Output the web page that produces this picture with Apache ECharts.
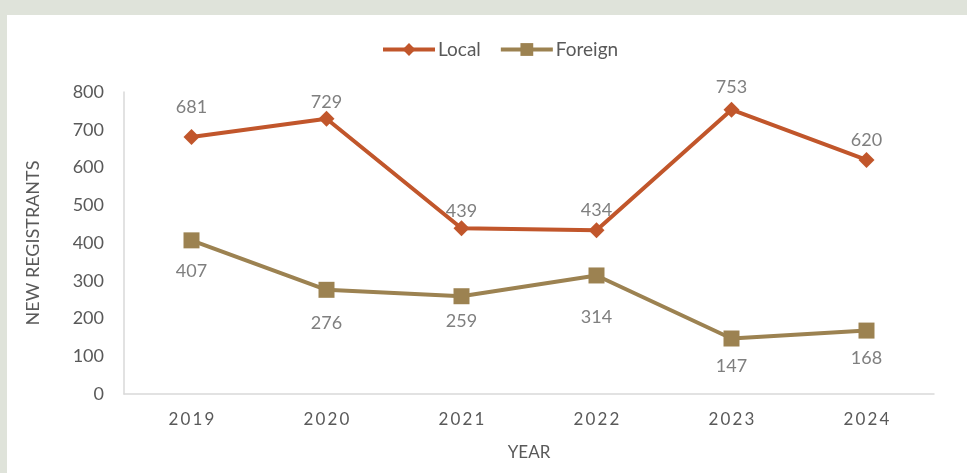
<!DOCTYPE html>
<html><head><meta charset="utf-8">
<script src="https://cdn.jsdelivr.net/npm/echarts@6/dist/echarts.min.js"></script>
<style>
html,body{margin:0;padding:0;background:#dfe3da;}
#wrap{position:absolute;left:7px;top:15px;right:0;bottom:0;background:#fff;}
#c{position:absolute;left:0;top:0;width:967px;height:473px;}
</style></head>
<body><div id="wrap"></div><div id="c"></div>
<script>
const years = ['2019','2020','2021','2022','2023','2024'];
const localValues = [681, 729, 439, 434, 753, 620];
const foreignValues = [407, 276, 259, 314, 147, 168];
const yTicks = {min: 0, max: 800, interval: 100};

// label placement (style only, pixel offsets of each value label)
const localLabelDy = [-30, -17, -17, -20, -23, -20];
const foreignLabelDy = [31, 33, 25, 42, 28, 28];

const font = 'Lato, "Noto Sans", sans-serif';
function withLabels(values, dys) {
  return values.map((v, i) => ({value: v, label: {offset: [0, dys[i]]}}));
}

const chart = echarts.init(document.getElementById('c'));
chart.setOption({
  backgroundColor: 'transparent',
  textStyle: {fontFamily: font},
  legend: {
    top: 35, left: 376, itemWidth: 52, itemHeight: 16, itemGap: 18,
    lineStyle: {width: 4},
    textStyle: {fontSize: 19, color: '#595959', fontFamily: font, padding: [0, 0, 0, -2]},
    data: ['Local', 'Foreign']
  },
  grid: {left: 124, right: 33, top: 92, bottom: 79, containLabel: false},
  xAxis: {
    type: 'category', data: years, boundaryGap: true,
    name: 'YEAR', nameLocation: 'middle', nameGap: 50,
    nameTextStyle: {fontSize: 17, color: '#595959'},
    axisLine: {lineStyle: {color: '#d9d9d9', width: 1.5}},
    axisTick: {show: false},
    axisLabel: {fontSize: 17, color: '#595959', margin: 17,
      formatter: v => v.split('').join('\u2009')}
  },
  yAxis: {
    type: 'value', min: yTicks.min, max: yTicks.max, interval: yTicks.interval,
    name: 'NEW REGISTRANTS', nameLocation: 'middle', nameGap: 82, nameRotate: 90,
    nameTextStyle: {fontSize: 18, color: '#595959'},
    axisLine: {show: true, lineStyle: {color: '#d9d9d9', width: 1.5}},
    axisTick: {show: false},
    splitLine: {show: false},
    axisLabel: {fontSize: 18, color: '#595959', margin: 20}
  },
  series: [
    {
      name: 'Local', type: 'line', data: withLabels(localValues, localLabelDy),
      symbol: 'diamond', symbolSize: 16,
      lineStyle: {color: '#c1562b', width: 4},
      itemStyle: {color: '#c1562b'},
      label: {show: true, position: 'inside', fontSize: 18, color: '#7f7f7f'}
    },
    {
      name: 'Foreign', type: 'line', data: withLabels(foreignValues, foreignLabelDy),
      symbol: 'rect', symbolSize: 16,
      lineStyle: {color: '#9c8251', width: 4},
      itemStyle: {color: '#9c8251'},
      label: {show: true, position: 'inside', fontSize: 18, color: '#7f7f7f'}
    }
  ]
});
</script></body></html>
